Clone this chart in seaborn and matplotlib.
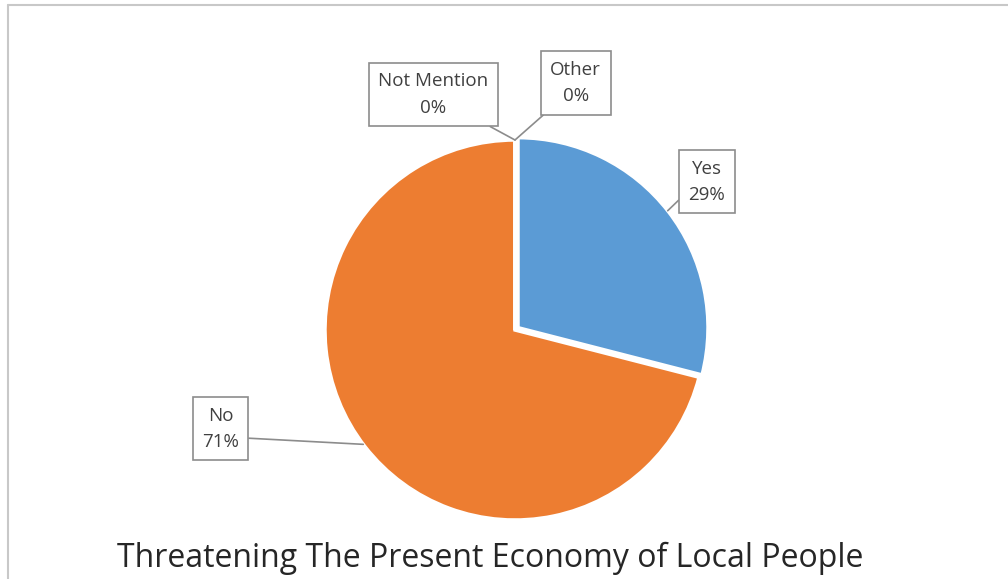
import numpy as np
import matplotlib
matplotlib.use('Agg')
import matplotlib.pyplot as plt
import seaborn as sns
from matplotlib.lines import Line2D

labels = ['Yes', 'No', 'Not Mention', 'Other']
values = [29, 71, 0, 0]
colors = ['#5B9BD5', '#ED7D31', '#A5A5A5', '#FFC000']
title = 'Threatening The Present Economy of Local People'

sns.set_theme(style='white')
plt.rcParams['font.family'] = ['Open Sans', 'DejaVu Sans']

fig = plt.figure(figsize=(10.08, 5.79), dpi=100)
R = 190.0
cx, cy = 515.0, 330.0
ax = fig.add_axes([0, 0, 1, 1])

explode = [0.02, 0, 0, 0]
wedges, _ = ax.pie(values, colors=colors, startangle=90, counterclock=False,
                   explode=explode, radius=1.0,
                   wedgeprops=dict(edgecolor='white', linewidth=2.5))
ax.set_xlim(-cx / R, (1008 - cx) / R)
ax.set_ylim(-(579 - cy) / R, cy / R)
ax.set_aspect('equal')
ax.axis('off')

total = sum(values)
# callout box centres, anchor angle on the rim, and where the leader leaves the box
callouts = {
    'Yes': ((1.01, 0.78), 38, (0.0, 0.3)),
    'No': ((-1.55, -0.52), 217, (1.0, 0.3)),
    'Not Mention': ((-0.43, 1.24), 90, (0.85, 0.0)),
    'Other': ((0.32, 1.3), 90, (0.08, 0.0)),
}
for w, lab, v in zip(wedges, labels, values):
    pos, deg, rel = callouts[lab]
    ccx, ccy = w.center
    ang = np.deg2rad(deg)
    pt = (ccx + np.cos(ang), ccy + np.sin(ang))
    pct = f'{v / total * 100:.0f}%'
    ax.annotate(f'{lab}\n{pct}', xy=pt, xytext=pos,
                ha='center', va='center', fontsize=13.5, color='#404040',
                linespacing=1.6,
                bbox=dict(boxstyle='square,pad=0.5', fc='white', ec='#8c8c8c', lw=1.2),
                arrowprops=dict(arrowstyle='-', color='#8c8c8c', lw=1.2,
                                shrinkA=0, shrinkB=0, relpos=rel))

fig.text(0.486, 0.036, title, ha='center', va='center', fontsize=23, color='#262626')

fig.add_artist(Line2D([0.008, 1.0], [0.991, 0.991], color='#c8c8c8', lw=1.5, transform=fig.transFigure))
fig.add_artist(Line2D([0.008, 0.008], [0.0, 0.991], color='#c8c8c8', lw=1.5, transform=fig.transFigure))

fig.savefig('out.png', dpi=100, facecolor='white')
